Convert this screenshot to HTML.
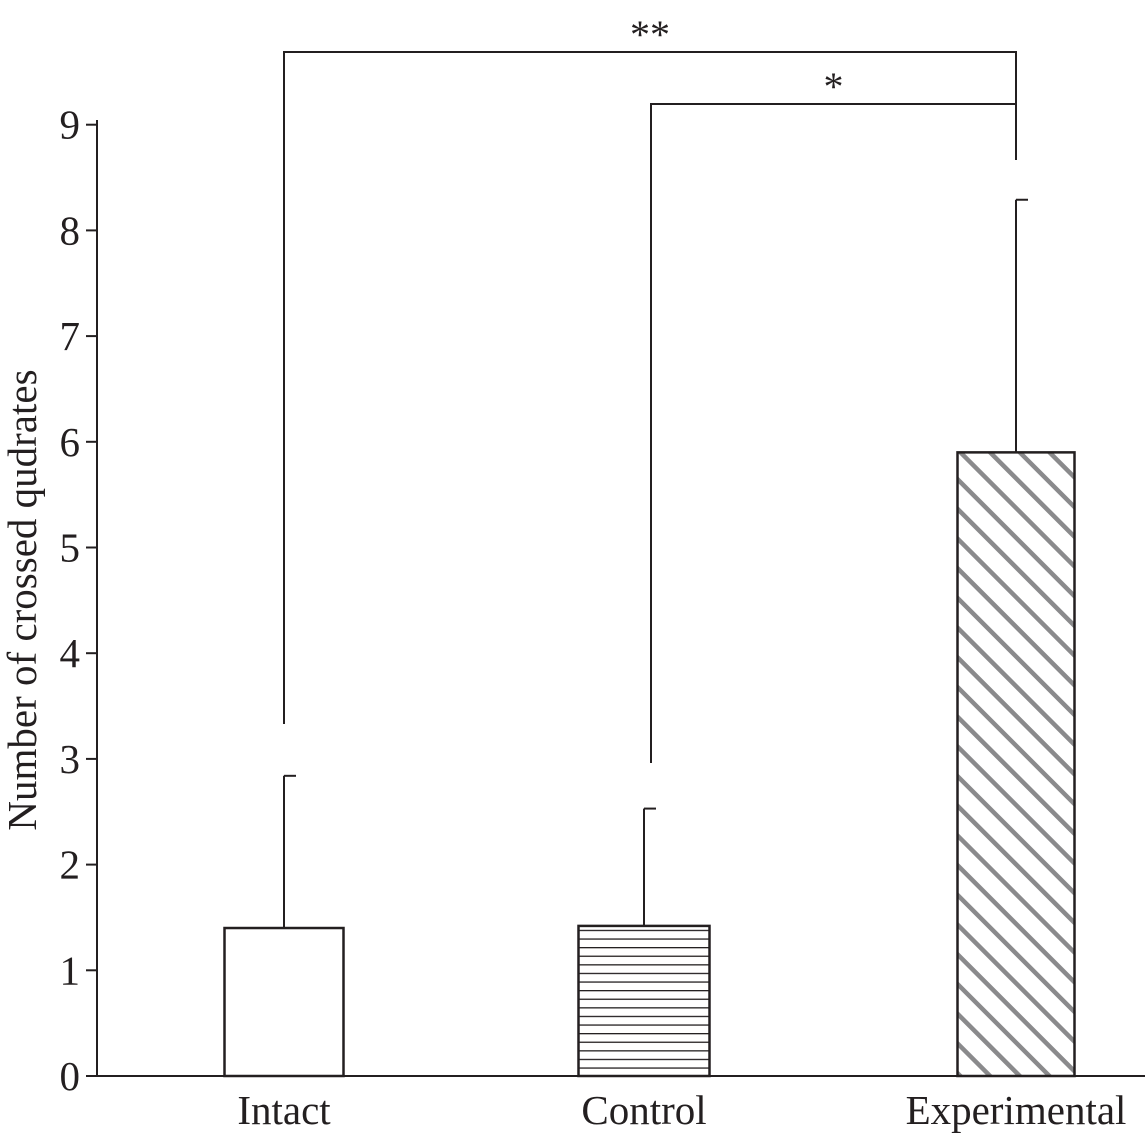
<!DOCTYPE html>
<html><head><meta charset="utf-8"><style>
body{margin:0;background:#fff}
svg text{font-family:"Liberation Serif",serif;fill:#231f20}
</style></head><body>
<svg width="1145" height="1136" viewBox="0 0 1145 1136">
<defs>
<pattern id="hz" patternUnits="userSpaceOnUse" width="10" height="8.6" y="1076"><line x1="0" y1="0" x2="10" y2="0" stroke="#231f20" stroke-width="2.6"/></pattern>
<pattern id="dg" patternUnits="userSpaceOnUse" width="21" height="21" patternTransform="rotate(-45)"><line x1="0" y1="0" x2="0" y2="21" stroke="#8a8a8c" stroke-width="9"/></pattern>
</defs>
<g id="chart"></g>
</svg>
<script>
const categories=["Intact","Control","Experimental"];
const means=[1.4,1.42,5.9];
const errors=[1.44,1.11,2.39];
const yTicks=[0,1,2,3,4,5,6,7,8,9];
const fills=["#fff","url(#hz)","url(#dg)"];
const NS="http://www.w3.org/2000/svg";
const g=document.getElementById("chart");
const y=v=>1076-v*105.7;
const centers=[284,644,1016];
const bw=[119,131,117];
function mk(t,a,parent){const e=document.createElementNS(NS,t);for(const k in a)e.setAttribute(k,a[k]);(parent||g).appendChild(e);return e;}
let e=mk("line",{x1:97,y1:120,x2:97,y2:1077,stroke:"#231f20","stroke-width":2});


e=mk("line",{x1:96,y1:1076,x2:1145,y2:1076,stroke:"#231f20","stroke-width":2});


yTicks.forEach(t=>{
 let l=mk("line",{x1:86,y1:y(t),x2:97,y2:y(t),stroke:"#231f20","stroke-width":2});
 
 
 let tx=mk("text",{x:80,y:y(t)+14,"font-size":41,"text-anchor":"end"});tx.textContent=t;
 
 
});
let yt=mk("text",{x:0,y:0,"font-size":41,"text-anchor":"middle",transform:"translate(36,600) rotate(-90)"});
yt.textContent="Number of crossed qudrates";


categories.forEach((c,i)=>{
 const cx=centers[i],w=bw[i];
 let el=mk("line",{x1:cx,y1:y(means[i]),x2:cx,y2:y(means[i]+errors[i]),stroke:"#231f20","stroke-width":2});
 
 
 el=mk("line",{x1:cx,y1:y(means[i]+errors[i]),x2:cx+12,y2:y(means[i]+errors[i]),stroke:"#231f20","stroke-width":2});
 
 
 let b=mk("rect",{x:cx-w/2,y:y(means[i]),width:w,height:1076-y(means[i]),fill:fills[i],stroke:"#231f20","stroke-width":2.5});
 
 
 let t=mk("text",{x:cx,y:1124,"font-size":41,"text-anchor":"middle"});t.textContent=c;
 
 
});
function bracket(x1,x2,yl,yb1,yb2,label,name){
 let p=mk("polyline",{points:`${x1},${yb1} ${x1},${yl} ${x2},${yl} ${x2},${yb2}`,fill:"none",stroke:"#231f20","stroke-width":2});
 
 
 let t=mk("text",{x:(x1+x2)/2,y:yl-4,"font-size":40,"text-anchor":"middle"});t.textContent=label;
 
 
}
bracket(284,1016,52,724,160,"**","bracket-intact-experimental");
bracket(651,1016,104,763,160,"*","bracket-control-experimental");
</script>
</body></html>
